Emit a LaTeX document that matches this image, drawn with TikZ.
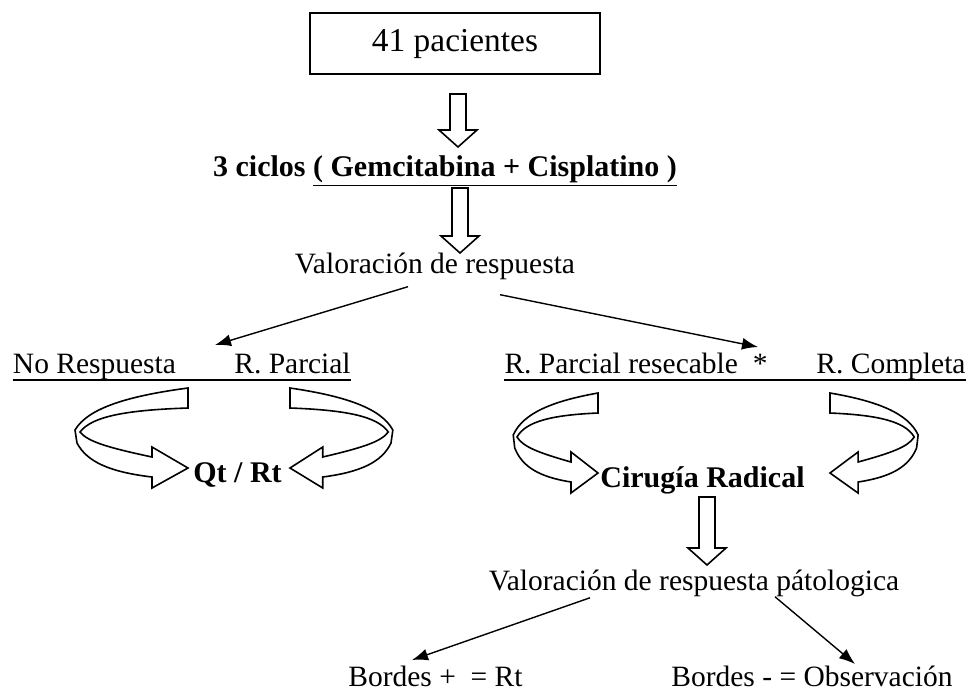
\documentclass[tikz,border=0pt]{standalone}
\usepackage{fontspec}
\setmainfont{Liberation Serif}
\usetikzlibrary{calc,arrows.meta}

\newcommand{\downblock}[3]{%
  \draw[blk] (#1-8,#2) -- (#1-8,#3-17) -- (#1-19,#3-17) -- (#1,#3)
    -- (#1+19,#3-17) -- (#1+8,#3-17) -- (#1+8,#2) -- cycle;}

\begin{document}
\begin{tikzpicture}[ x=0.5pt, y=-0.5pt,
  txt/.style={inner sep=0pt, anchor=base, font=\fontsize{14.75}{17}\selectfont},
  btxt/.style={inner sep=0pt, anchor=base, font=\fontsize{15}{18}\selectfont\bfseries},
  blk/.style={line width=0.8pt, fill=white},
  arr/.style={line width=0.7pt, -{Latex[length=8pt,width=6pt]}},
  ribbon/.pic={
    \draw[blk] (0,-80) .. controls (-60,-72) and (-100,-60) .. (-113,-38)
      -- (-111,-25) .. controls (-101,-6) and (-78,4) .. (-36,9)
      -- (-36,20) -- (0,0) -- (-36,-21) -- (-36,-11)
      .. controls (-78,-20) and (-100,-26) .. (-108,-36)
      .. controls (-96,-52) and (-60,-58) .. (0,-60) -- cycle;
  } ]

\useasboundingbox (0,0) rectangle (976,698);

%Top
\node[draw, line width=0.8pt, minimum width=145pt, minimum height=30.5pt,
  font=\fontsize{16.7}{20}\selectfont] (pac) at (455,43.5) {41 pacientes};
\downblock{458}{94}{147}
\node[btxt] (ciclos) at (445,176) {3 ciclos \underline{( Gemcitabina + Cisplatino )}};
\downblock{460}{188}{253}
\node[txt] (val1) at (435,273) {Valoración de respuesta};

%Respuesta
\coordinate (nrtip) at (215,345);
\coordinate (rprtip) at (758,347);
\draw[arr] ($(val1.south)+(-27,7)$) -- (nrtip);
\draw[arr] ($(val1.south)+(65,15)$) -- (rprtip);

\node[txt] (nr) at (94.5,373) {No Respuesta};
\node[txt] (rp) at (292.5,373) {R. Parcial};
\draw[line width=0.6pt] ($(nr.base west)+(0,7)$) -- ($(rp.base east)+(0,7)$);
\node[txt] (rpr) at (636,373) {R. Parcial resecable \ *};
\node[txt] (rc) at (891,373) {R. Completa};
\draw[line width=0.6pt] ($(rpr.base west)+(0,7)$) -- ($(rc.base east)+(0,7)$);

%Curved arrows
\pic at (188,468) {ribbon};
\pic[xscale=-0.91] at (290,468) {ribbon};
\node[btxt] (qt) at (237.5,482) {Qt / Rt};
\pic[xscale=0.75] at (598,473) {ribbon};
\pic[xscale=-0.78] at (830,473) {ribbon};
\node[btxt] (cir) at (702.5,487) {Cirugía Radical};

%Pathology
\downblock{707}{497}{565}
\node[txt] (val2) at (694,590) {Valoración de respuesta pátologica};
\coordinate (bptip) at (412,660);
\coordinate (bmtip) at (855,664);
\draw[arr] ($(val2.south)+(-104,1)$) -- (bptip);
\draw[arr] ($(val2.south)+(81,0)$) -- (bmtip);
\node[txt] (bp) at (435.5,686) {Bordes + \ = Rt};
\node[txt] (bm) at (812,686) {Bordes - = Observación};

\end{tikzpicture}
\end{document}
